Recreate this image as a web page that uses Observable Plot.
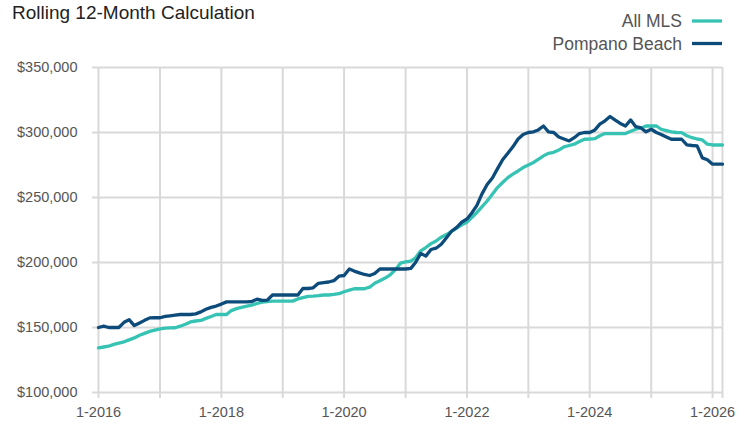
<!DOCTYPE html>
<html>
<head>
<meta charset="utf-8">
<script src="https://cdn.jsdelivr.net/npm/d3@7"></script>
<script src="https://cdn.jsdelivr.net/npm/@observablehq/plot@0.6"></script>
<style>
  html, body { margin: 0; padding: 0; background: #fff; }
  #wrap { width: 750px; font-family: "Liberation Sans", Arial, sans-serif; }
  #header { display: block; overflow: visible; }
</style>
</head>
<body>
<div id="wrap">
  <svg id="header" width="750" height="56"></svg>
  <div id="chart"></div>
</div>
<script>
// ---- data (values in thousands of dollars, monthly from Jan 2016) ----
const title = "Rolling 12-Month Calculation";
const seriesNames = ["All MLS", "Pompano Beach"];
const seriesColors = ["#36c3b4", "#0d4c7a"];
const startMonth = "2016-01";

const allMLS = [
  134.3,135,135.6,137,138,139,140.5,142,144,145.5,147,148,          // 2016
  149,149.5,149.7,149.8,151,152.5,154.3,155,155.4,157,158.5,160,    // 2017
  160,160,163,164.5,165.5,166.5,167.2,168.5,169.5,170,170.3,170.3,  // 2018
  170.3,170.3,170.3,172,173,174,174.2,174.5,175,175,175.4,176,      // 2019
  177.5,178.7,179.8,179.8,179.8,181,184,186,188,190.5,194.5,199.5,  // 2020
  200.5,201.1,203.6,209,211.5,214.5,216.5,219.5,221.5,224,226.5,229,// 2021
  231,235,238.5,243,247.3,252.5,257.6,261.5,265.3,268,270.4,273,    // 2022
  275,277,279.4,282,284,284.8,286.5,289,290,291,293,294.8,          // 2023
  295,295.3,297.5,299.2,299.2,299.2,299.2,299.2,301,302.5,303.5,305,// 2024
  305.1,305,302.5,301.5,300.5,300,299.9,297.5,296,295,294.3,291,    // 2025
  290.4,290.4,290.4                                                 // 2026
];
const pompanoBeach = [
  150,151,150,150,150,154,156,151.5,153.5,155.5,157.4,157.5,        // 2016
  157.5,158.5,159,159.5,160,160,160,160.5,162,164,165.5,166.5,      // 2017
  168,169.7,169.7,169.7,169.7,169.7,170,171.8,170.8,171,175,175,    // 2018
  175,175,175,175,180,180,180.5,184,184.5,185,186,189.5,            // 2019
  190,195,193.4,192,190.8,190,191.5,195,195,195,195,195,            // 2020
  195,195.5,200,207,204.9,210,211,214,219,224,227,231,              // 2021
  233.5,238.5,244,253,260,265,272,279,284,289,295,298.5,            // 2022
  300,300.5,302,305,300.5,300,296.5,295,293.5,296,299.2,300,        // 2023
  300,302,306.4,309,312.3,309.5,307,305,309.7,304.5,303.5,300.5,    // 2024
  302.5,300,298.5,296.6,294.8,294.8,294.8,290.4,290,289.7,280.5,279,// 2025
  275.6,275.6,275.6                                                 // 2026
];
const yTicks = [100000, 150000, 200000, 250000, 300000, 350000];
const xTickYears = [2016,2017,2018,2019,2020,2021,2022,2023,2024,2025,2026];
const labeledYears = [2016, 2018, 2020, 2022, 2024, 2026];

// ---- build table ----
const t0 = d3.utcParse("%Y-%m")(startMonth);
const rows = [];
[allMLS, pompanoBeach].forEach((arr, s) => {
  arr.forEach((v, i) => rows.push({series: seriesNames[s], date: d3.utcMonth.offset(t0, i), value: v * 1000}));
});
const lastDate = d3.utcMonth.offset(t0, allMLS.length - 1);
const yearDates = xTickYears.map(y => new Date(Date.UTC(y, 0, 1)));
const xTicksAll = [...yearDates, lastDate];

const grid = "#d9d9d9";
const txt = "#555";

const chart = Plot.plot({
  width: 750,
  height: 371,
  marginLeft: 98,
  marginRight: 28,
  marginTop: 11,
  marginBottom: 35,
  style: {fontFamily: '"Liberation Sans", Arial, sans-serif', fontSize: "14.5px", background: "#fff", overflow: "visible"},
  x: {type: "utc", domain: [t0, lastDate]},
  y: {domain: [100000, 350000], label: null},
  color: {domain: seriesNames, range: seriesColors},
  marks: [
    Plot.gridY(yTicks, {stroke: grid, strokeOpacity: 1, strokeWidth: 2}),
    Plot.gridX(xTicksAll, {stroke: grid, strokeOpacity: 1, strokeWidth: 2}),
    Plot.axisY(yTicks, {
      tickSize: 6, tickPadding: 15, stroke: grid, strokeWidth: 2, fill: txt, label: null,
      tickFormat: d => "$" + d3.format(",")(d)
    }),
    Plot.axisX(xTicksAll, {
      tickSize: 6, tickPadding: 8, stroke: grid, strokeWidth: 2, fill: txt, label: null,
      tickFormat: d => (d.getUTCMonth() === 0 && labeledYears.includes(d.getUTCFullYear())) ? `1-${d.getUTCFullYear()}` : ""
    }),
    Plot.line(rows, {x: "date", y: "value", z: "series", stroke: "series", strokeWidth: 3.3, strokeLinejoin: "round", curve: "linear"})
  ]
});
document.getElementById("chart").appendChild(chart);

// ---- header: title + legend ----
const header = d3.select("#header");
header.append("text").attr("x", 12).attr("y", 18.5)
  .attr("font-size", 19).attr("fill", "#222").text(title);
const legendY = [21, 43.5];
seriesNames.forEach((name, i) => {
  header.append("text").attr("x", 682).attr("y", legendY[i]).attr("dy", "0.36em")
    .attr("text-anchor", "end").attr("font-size", 17.5).attr("fill", txt).text(name);
  header.append("line").attr("x1", 692).attr("x2", 722).attr("y1", legendY[i]).attr("y2", legendY[i])
    .attr("stroke", seriesColors[i]).attr("stroke-width", 3.3);
});
</script>
</body>
</html>
